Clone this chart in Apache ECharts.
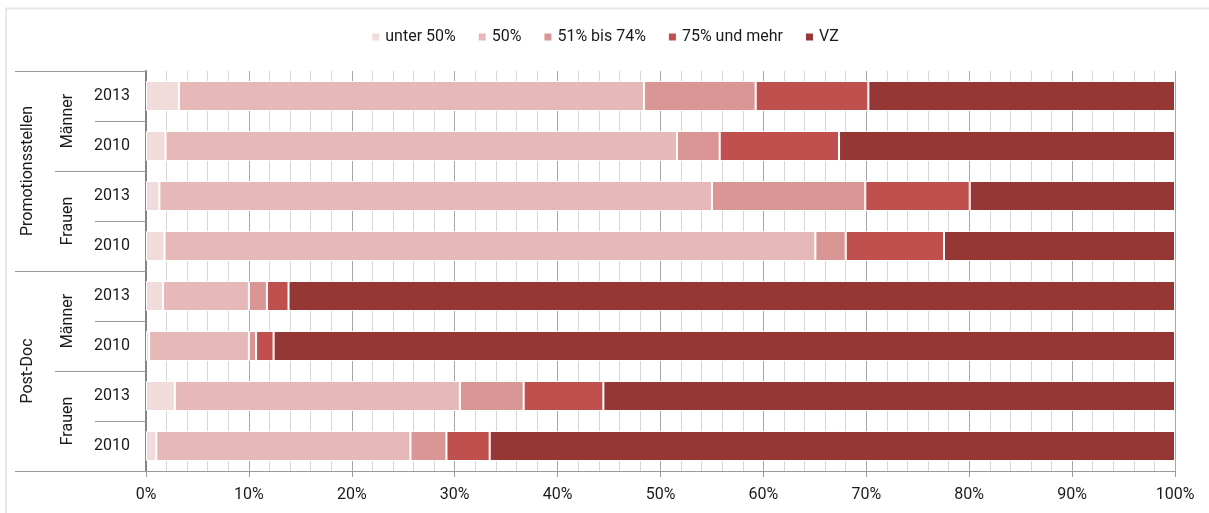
<!DOCTYPE html>
<html>
<head>
<meta charset="utf-8">
<script src="https://cdn.jsdelivr.net/npm/echarts@6/dist/echarts.min.js"></script>
<style>
  html, body { margin: 0; padding: 0; background: #fff; }
  #chart { width: 1209px; height: 513px; }
</style>
</head>
<body>
<div id="chart"></div>
<script>
// Rows from top to bottom: year within sex within position type
const years = ['2013', '2010', '2013', '2010', '2013', '2010', '2013', '2010'];
const sexes = ['Männer', 'Frauen', 'Männer', 'Frauen'];
const groups = ['Promotionsstellen', 'Post-Doc'];

// Share of contracts by working-time scope, in percent
const seriesNames = ['unter 50%', '50%', '51% bis 74%', '75% und mehr', 'VZ'];
const unter50 = [3.2, 1.9, 1.3, 1.8, 1.65, 0.3, 2.8, 1.0];
const p50 = [45.2, 49.7, 53.7, 63.25, 8.35, 9.7, 27.7, 24.7];
const p51bis74 = [10.85, 4.15, 14.9, 2.95, 1.75, 0.7, 6.2, 3.5];
const p75plus = [10.95, 11.6, 10.15, 9.55, 2.1, 1.7, 7.75, 4.2];
const vz = [29.8, 32.65, 19.95, 22.45, 86.15, 87.6, 55.55, 66.6];

const colors = ['#f2dcdb', '#e6b9b8', '#d99694', '#c0504d', '#953735'];
const values = [unter50, p50, p51bis74, p75plus, vz];

const FONT = 'Roboto, "Noto Sans", sans-serif';
const TEXT = '#1a1a1a';

const chart = echarts.init(document.getElementById('chart'));

const series = seriesNames.map((name, i) => ({
  name: name,
  type: 'bar',
  stack: 'total',
  yAxisIndex: 0,
  barWidth: '60%',
  data: values[i],
  itemStyle: { color: colors[i], borderColor: '#ffffff', borderWidth: 1 },
  emphasis: { disabled: true }
}));

const sideAxis = (data, tickLen, margin, rotate, showLine) => ({
  type: 'category',
  position: 'left',
  inverse: true,
  data: data,
  axisLine: { show: showLine, lineStyle: { color: '#858585', width: 2 } },
  axisTick: { show: true, length: tickLen, lineStyle: { color: '#9a9a9a', width: 1 } },
  axisLabel: {
    interval: 0,
    rotate: rotate,
    margin: margin,
    fontFamily: FONT,
    fontSize: 16,
    color: TEXT
  },
  splitLine: { show: false }
});

chart.setOption({
  animation: false,
  backgroundColor: '#ffffff',
  color: colors,
  textStyle: { fontFamily: FONT },
  graphic: [{
    type: 'rect',
    shape: { x: 6, y: 8.5, width: 1300, height: 600 },
    style: { fill: 'none', stroke: '#e8e8e8', lineWidth: 2 },
    silent: true
  }],
  legend: {
    top: 24,
    left: 'center',
    itemWidth: 9,
    itemHeight: 9,
    itemGap: 21,
    icon: 'rect',
    selectedMode: false,
    textStyle: { fontFamily: FONT, fontSize: 16, color: TEXT },
    data: seriesNames
  },
  grid: { left: 146, right: 34, top: 71, bottom: 42, containLabel: false },
  xAxis: {
    type: 'value',
    min: 0,
    max: 100,
    interval: 10,
    axisLine: { show: true, lineStyle: { color: '#9a9a9a', width: 1 } },
    axisTick: { show: true, length: 6, lineStyle: { color: '#9a9a9a' } },
    minorTick: { show: false, splitNumber: 5 },
    axisLabel: {
      margin: 16,
      fontFamily: FONT,
      fontSize: 16,
      color: TEXT,
      formatter: '{value}%'
    },
    splitLine: { show: true, lineStyle: { color: '#a8a8a8', width: 1 } },
    minorSplitLine: { show: true, lineStyle: { color: '#d6d6d6', width: 1 } }
  },
  yAxis: [
    sideAxis(years, 51, 16, 0, true),
    sideAxis(sexes, 91, 70, 90, false),
    sideAxis(groups, 131, 110, 90, false)
  ],
  series: series
});
</script>
</body>
</html>
